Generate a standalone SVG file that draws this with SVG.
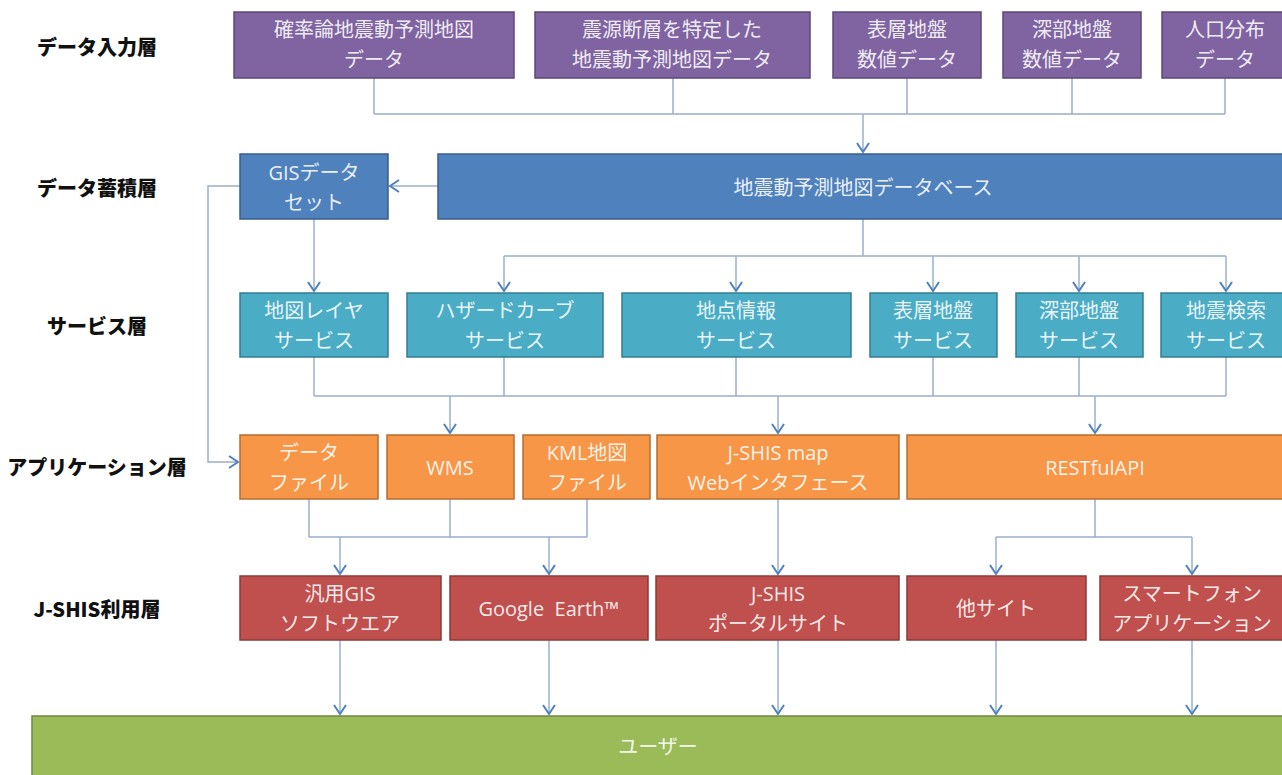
<svg xmlns="http://www.w3.org/2000/svg" width="1282" height="775" viewBox="0 0 1282 775">
<style>
.lbl{font-family:"Noto Sans CJK JP","Noto Sans",sans-serif;font-weight:900;font-size:20px;fill:#111;text-anchor:middle;dominant-baseline:central}
.t{font-family:"Open Sans","Noto Sans CJK JP",sans-serif;font-size:20px;fill:#fff;fill-opacity:0.9;text-anchor:middle;dominant-baseline:central}
.pu{fill:#8064a2;stroke:#5c4776;stroke-width:1.5}
.bl{fill:#4f81bd;stroke:#385d8a;stroke-width:1.5}
.te{fill:#4bacc6;stroke:#357d91;stroke-width:1.5}
.or{fill:#f79646;stroke:#b66d31;stroke-width:1.5}
.rd{fill:#c0504d;stroke:#8c3836;stroke-width:1.5}
.gr{fill:#9bbb59;stroke:#71893f;stroke-width:1.5}
.ln{fill:none;stroke:#9aafcb;stroke-width:1.5}
.ar{fill:none;stroke:#9aafcb;stroke-width:1.5;marker-end:url(#arr)}
</style>
<defs>
<marker id="arr" viewBox="-12 -7 14 14" refX="0" refY="0" markerWidth="14" markerHeight="14" orient="auto" markerUnits="userSpaceOnUse">
<path d="M-9,-6 L0,0 L-9,6" fill="none" stroke="#4f81bd" stroke-width="2"/>
</marker>
</defs>
<rect width="1282" height="775" fill="#ffffff"/>

<g id="layer-labels">
<text class="lbl" x="97" y="46">データ入力層</text>
<text class="lbl" x="97" y="187">データ蓄積層</text>
<text class="lbl" x="97" y="325">サービス層</text>
<text class="lbl" x="97" y="466">アプリケーション層</text>
<text class="lbl" x="97" y="608">J-SHIS利用層</text>
</g>

<g id="connectors">
<path class="ln" d="M374,78 V114 M673,78 V114 M907,78 V114 M1072,78 V114 M1225,78 V114 M374,114 H1225"/>
<path class="ar" d="M863,114 V152"/>
<path class="ar" d="M438,186 H390"/>
<path class="ar" d="M240,186 H208 V462 H238"/>
<path class="ar" d="M314,219 V291"/>
<path class="ln" d="M863,219 V256 M504,256 H1226"/>
<path class="ar" d="M504,256 V291"/>
<path class="ar" d="M736,256 V291"/>
<path class="ar" d="M933,256 V291"/>
<path class="ar" d="M1079,256 V291"/>
<path class="ar" d="M1226,256 V291"/>
<path class="ln" d="M314,357 V396 M504,357 V396 M736,357 V396 M933,357 V396 M1079,357 V396 M1226,357 V396 M314,396 H1226"/>
<path class="ar" d="M450,396 V433"/>
<path class="ar" d="M778,396 V433"/>
<path class="ar" d="M1095,396 V433"/>
<path class="ln" d="M309,499 V537 M450,499 V537 M587,499 V537 M309,537 H587"/>
<path class="ar" d="M340,537 V574"/>
<path class="ar" d="M549,537 V574"/>
<path class="ar" d="M778,499 V574"/>
<path class="ln" d="M1095,499 V537 M996,537 H1192"/>
<path class="ar" d="M996,537 V574"/>
<path class="ar" d="M1192,537 V574"/>
<path class="ar" d="M340,640 V714"/>
<path class="ar" d="M549,640 V714"/>
<path class="ar" d="M778,640 V714"/>
<path class="ar" d="M996,640 V714"/>
<path class="ar" d="M1192,640 V714"/>
</g>

<g id="in-prob"><rect class="pu" x="234" y="12" width="280" height="66"/><text class="t" x="374" y="29">確率論地震動予測地図</text><text class="t" x="374" y="59">データ</text></g>
<g id="in-fault"><rect class="pu" x="535" y="12" width="275" height="66"/><text class="t" x="672" y="29">震源断層を特定した</text><text class="t" x="672" y="59">地震動予測地図データ</text></g>
<g id="in-shallow"><rect class="pu" x="833" y="12" width="148" height="66"/><text class="t" x="907" y="29">表層地盤</text><text class="t" x="907" y="59">数値データ</text></g>
<g id="in-deep"><rect class="pu" x="1003" y="12" width="138" height="66"/><text class="t" x="1072" y="29">深部地盤</text><text class="t" x="1072" y="59">数値データ</text></g>
<g id="in-pop"><rect class="pu" x="1162" y="12" width="130" height="66"/><text class="t" x="1225" y="29">人口分布</text><text class="t" x="1225" y="59">データ</text></g>

<g id="gis-dataset"><rect class="bl" x="240" y="154" width="148" height="65"/><text class="t" x="314" y="172">GISデータ</text><text class="t" x="314" y="202">セット</text></g>
<g id="database"><rect class="bl" x="438" y="154" width="854" height="65"/><text class="t" x="863" y="187">地震動予測地図データベース</text></g>

<g id="svc-layer"><rect class="te" x="240" y="293" width="148" height="64"/><text class="t" x="314" y="310">地図レイヤ</text><text class="t" x="314" y="340">サービス</text></g>
<g id="svc-hazard"><rect class="te" x="407" y="293" width="196" height="64"/><text class="t" x="505" y="310">ハザードカーブ</text><text class="t" x="505" y="340">サービス</text></g>
<g id="svc-point"><rect class="te" x="622" y="293" width="229" height="64"/><text class="t" x="736" y="310">地点情報</text><text class="t" x="736" y="340">サービス</text></g>
<g id="svc-shallow"><rect class="te" x="870" y="293" width="127" height="64"/><text class="t" x="933" y="310">表層地盤</text><text class="t" x="933" y="340">サービス</text></g>
<g id="svc-deep"><rect class="te" x="1016" y="293" width="127" height="64"/><text class="t" x="1079" y="310">深部地盤</text><text class="t" x="1079" y="340">サービス</text></g>
<g id="svc-quake"><rect class="te" x="1161" y="293" width="131" height="64"/><text class="t" x="1226" y="310">地震検索</text><text class="t" x="1226" y="340">サービス</text></g>

<g id="app-datafile"><rect class="or" x="240" y="435" width="138" height="64"/><text class="t" x="309" y="452">データ</text><text class="t" x="309" y="482">ファイル</text></g>
<g id="app-wms"><rect class="or" x="387" y="435" width="127" height="64"/><text class="t" x="450" y="467">WMS</text></g>
<g id="app-kml"><rect class="or" x="523" y="435" width="127" height="64"/><text class="t" x="587" y="452">KML地図</text><text class="t" x="587" y="482">ファイル</text></g>
<g id="app-jshismap"><rect class="or" x="657" y="435" width="242" height="64"/><text class="t" x="778" y="452">J-SHIS map</text><text class="t" x="778" y="482">Webインタフェース</text></g>
<g id="app-rest"><rect class="or" x="907" y="435" width="385" height="64"/><text class="t" x="1095" y="467">RESTfulAPI</text></g>

<g id="use-gis"><rect class="rd" x="240" y="576" width="201" height="64"/><text class="t" x="340" y="593">汎用GIS</text><text class="t" x="340" y="623">ソフトウエア</text></g>
<g id="use-ge"><rect class="rd" x="450" y="576" width="198" height="64"/><text class="t" x="549" y="608">Google&#160; Earth™</text></g>
<g id="use-portal"><rect class="rd" x="656" y="576" width="243" height="64"/><text class="t" x="778" y="593">J-SHIS</text><text class="t" x="778" y="623">ポータルサイト</text></g>
<g id="use-other"><rect class="rd" x="907" y="576" width="179" height="64"/><text class="t" x="996" y="608">他サイト</text></g>
<g id="use-smart"><rect class="rd" x="1100" y="576" width="192" height="64"/><text class="t" x="1192" y="593">スマートフォン</text><text class="t" x="1192" y="623">アプリケーション</text></g>

<g id="user"><rect class="gr" x="32" y="716" width="1260" height="70"/><text class="t" x="658" y="746">ユーザー</text></g>
</svg>
